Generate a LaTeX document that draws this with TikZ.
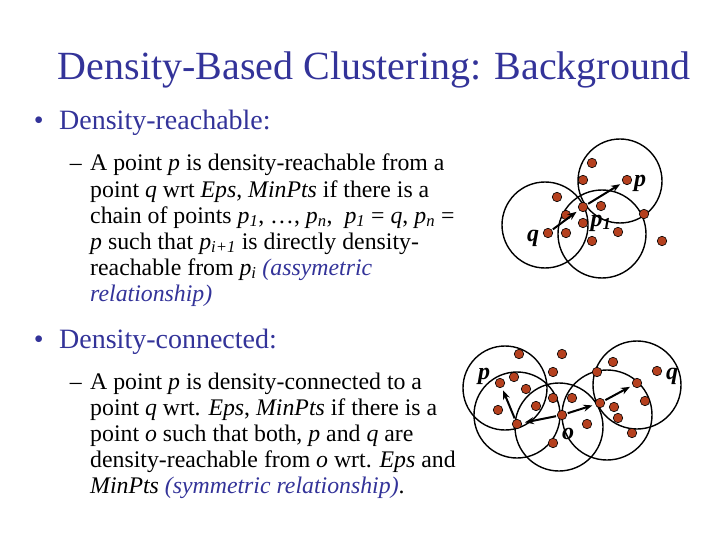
\documentclass[tikz,border=0pt]{standalone}
\usepackage{fontspec}
\setmainfont{Liberation Serif}
\usetikzlibrary{arrows.meta}
\definecolor{ttl}{HTML}{333399}
\definecolor{dotc}{HTML}{B5401E}
\newcommand\psub[1]{\textit{p}\textsubscript{\textit{#1}}}
\tikzset{
 txt/.style={anchor=base west,inner sep=0pt,font=\fontsize{23.8}{26}\selectfont},
 bul/.style={anchor=base west,inner sep=0pt,font=\fontsize{28}{30}\selectfont,text=ttl},
 ring/.style={draw,line width=1.4pt},
 dot/.style={circle,draw=black,fill=dotc,line width=0.6pt,minimum size=9.5pt,inner sep=0pt},
 arr/.style={line width=2pt,-{Stealth[length=9pt,width=7pt]},shorten >=3pt,shorten <=1pt},
 lab/.style={font=\fontsize{24}{24}\selectfont\itshape\bfseries,inner sep=0pt}
}
\begin{document}
\begin{tikzpicture}[x=1pt,y=-1pt]
\useasboundingbox (0,0) rectangle (720,540);
\node[anchor=base,inner sep=0pt,font=\fontsize{40}{44}\selectfont,text=ttl] (title) at (374,80) {Density-Based Clustering: Background};
\node[bul,anchor=base east] (b1d) at (44,130) {\textbullet};
\node[bul] (b1) at (59,130) {Density-reachable:};
\node[txt,anchor=base east] (d1) at (82,171) {–};
\node[txt] (l1) at (90,171) {A point \textit{p} is density-reachable from a};
\node[txt] (l2) at (90,197) {point \textit{q} wrt \textit{Eps}, \textit{MinPts} if there is a};
\node[txt] (l3) at (90,223) {chain of points \psub{1}, …, \psub{n},\ \ \psub{1} = \textit{q}, \psub{n} =};
\node[txt] (l4) at (90,249) {\textit{p} such that \psub{i+1} is directly density-};
\node[txt] (l5) at (90,275) {reachable from \psub{i} \textcolor{ttl}{\textit{(assymetric}}};
\node[txt,text=ttl] (l6) at (90,301) {\textit{relationship)}};
\node[bul,anchor=base east] (b2d) at (44,348) {\textbullet};
\node[bul] (b2) at (59,348) {Density-connected:};
\node[txt,anchor=base east] (d2) at (82,389) {–};
\node[txt] (m1) at (90,389) {A point \textit{p} is density-connected to a};
\node[txt] (m2) at (90,415) {point \textit{q} wrt. \textit{Eps}, \textit{MinPts} if there is a};
\node[txt] (m3) at (90,441) {point \textit{o} such that both, \textit{p} and \textit{q} are};
\node[txt] (m4) at (90,467) {density-reachable from \textit{o} wrt. \textit{Eps} and};
\node[txt] (m5) at (90,493) {\textit{MinPts} \textcolor{ttl}{\textit{(symmetric relationship)}}.};
% diagram 1
\draw[ring] (545,225) circle (43);
\draw[ring] (620,181) circle (42);
\draw[ring] (602,234) circle (44);
\foreach \n/\x/\y in {a1/592/163,a2/583/180,ap/627/180,a3/557/197,ap1/583/207,a4/601/206,a5/566/215,a6/583/223,a7/644/214,a8/618/232,aq/548/233,a9/566/233,a10/592/241,a11/662/241}
  \node[dot] (\n) at (\x,\y) {};
\draw[arr] (aq) -- (ap1);
\draw[arr] (ap1) -- (ap);
\node[lab] (lq) at (533,238) {q};
\node[lab] (lp) at (640,183) {p};
\node[lab] (lp1) at (601,223) {p\textsubscript{\itshape 1}};
% diagram 2
\draw[ring] (505,388) circle (42);
\draw[ring] (517,415) circle (43);
\draw[ring] (559,427) circle (44);
\draw[ring] (607,415) circle (45);
\draw[ring] (637,385) circle (44);
\foreach \n/\x/\y in {c1/519/354,c2/562/354,cp/500/383,c3/514/377,c4/526/389,c5/553/372,c6/597/372,c7/613/362,c8/657/371,cq/637/383,c9/553/398,c10/572/398,c11/536/406,c12/498/410,cb/517/424,co/562/415,cd/600/403,c13/614/407,c14/618/418,c15/645/401,c16/587/424,c17/632/433,c18/553/443}
  \node[dot] (\n) at (\x,\y) {};
\draw[arr] (cb) -- (cp);
\draw[arr] (co) -- (cb);
\draw[arr] (co) -- (cd);
\draw[arr] (cd) -- (cq);
\node[lab] (lp2) at (484,376) {p};
\node[lab] (lo) at (568,434) {o};
\node[lab] (lq2) at (672,376) {q};
\end{tikzpicture}
\end{document}
